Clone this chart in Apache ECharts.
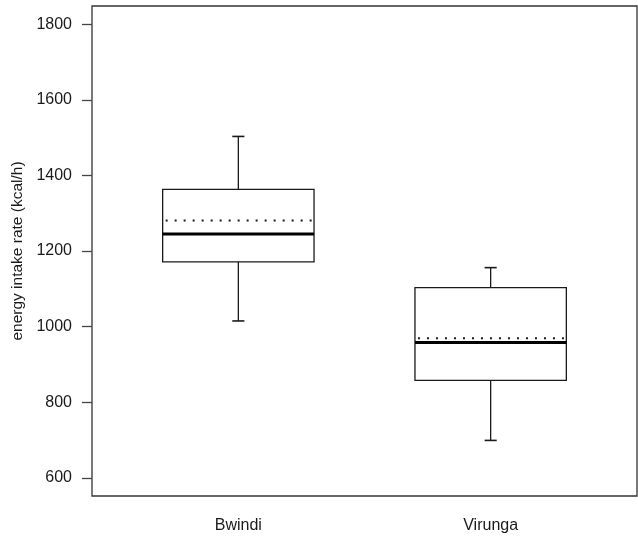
<!DOCTYPE html>
<html>
<head>
<meta charset="utf-8">
<script src="https://cdn.jsdelivr.net/npm/echarts@6/dist/echarts.min.js"></script>
<style>
html,body{margin:0;padding:0;background:#fff;}
#main{width:638px;height:536px;}
</style>
</head>
<body>
<div id="main"></div>
<script>
// Data
var categories = ['Bwindi', 'Virunga'];
var whiskerLow = [1015, 699];
var q1 = [1171, 858];
var median = [1245, 958];
var q3 = [1363, 1103];
var whiskerHigh = [1503, 1156];
var mean = [1281, 969];
var yTicks = [600, 800, 1000, 1200, 1400, 1600, 1800];

var data = categories.map(function (c, i) {
  return [i + 1, whiskerLow[i], q1[i], median[i], q3[i], whiskerHigh[i], mean[i]];
});

var FONT = '"Liberation Sans", Arial, Helvetica, sans-serif';
var INK = '#1a1a1a';

function renderItem(params, api) {
  var x = api.value(0);
  var half = 0.3, cap = 0.024;
  var lo = api.value(1), a = api.value(2), m = api.value(3), b = api.value(4), hi = api.value(5), mu = api.value(6);
  var pL = api.coord([x - half, b]);
  var pR = api.coord([x + half, a]);
  var c = function (xx, yy) { return api.coord([xx, yy]); };
  var thin = {stroke: INK, lineWidth: 1.3, fill: null};
  var children = [];
  children.push({type: 'line', shape: {x1: c(x, b)[0], y1: c(x, b)[1], x2: c(x, hi)[0], y2: c(x, hi)[1]}, style: thin});
  children.push({type: 'line', shape: {x1: c(x, a)[0], y1: c(x, a)[1], x2: c(x, lo)[0], y2: c(x, lo)[1]}, style: thin});
  children.push({type: 'line', shape: {x1: c(x - cap, hi)[0], y1: c(x, hi)[1], x2: c(x + cap, hi)[0], y2: c(x, hi)[1]}, style: {stroke: INK, lineWidth: 1.6}});
  children.push({type: 'line', shape: {x1: c(x - cap, lo)[0], y1: c(x, lo)[1], x2: c(x + cap, lo)[0], y2: c(x, lo)[1]}, style: {stroke: INK, lineWidth: 1.6}});
  children.push({type: 'rect', shape: {x: pL[0], y: pL[1], width: pR[0] - pL[0], height: pR[1] - pL[1]}, style: {stroke: INK, lineWidth: 1.3, fill: '#fff'}});
  var mL = c(x - half, mu), mR = c(x + half, mu);
  children.push({type: 'line', shape: {x1: mL[0] + 3, y1: mL[1], x2: mR[0], y2: mR[1]}, style: {stroke: INK, lineWidth: 2, lineDash: [2, 7]}});
  var dL = c(x - half, m), dR = c(x + half, m);
  children.push({type: 'line', shape: {x1: dL[0], y1: dL[1], x2: dR[0], y2: dR[1]}, style: {stroke: '#000', lineWidth: 3.2}});
  return {type: 'group', children: children};
}

var chart = echarts.init(document.getElementById('main'), null, {renderer: 'canvas'});
chart.setOption({
  animation: false,
  backgroundColor: '#fff',
  grid: {left: 92, right: 1, top: 6, bottom: 40, show: true, borderColor: '#333', borderWidth: 1.3, backgroundColor: 'transparent'},
  xAxis: {
    type: 'value', min: 0.42, max: 2.58,
    axisLine: {show: false},
    axisTick: {show: false},
    splitLine: {show: false},
    axisLabel: {
      customValues: [1, 2],
      formatter: function (v) { return categories[Math.round(v) - 1] || ''; },
      color: INK, fontFamily: FONT, fontSize: 16, margin: 22
    }
  },
  yAxis: {
    type: 'value', min: 552, max: 1848,
    name: 'energy intake rate (kcal/h)',
    nameLocation: 'middle', nameGap: 64,
    nameTextStyle: {color: INK, fontFamily: FONT, fontSize: 15.5},
    axisLine: {show: false},
    splitLine: {show: false},
    axisTick: {show: true, customValues: yTicks, length: 10, lineStyle: {color: '#444', width: 1.3}},
    axisLabel: {customValues: yTicks, formatter: function (v) { return String(v); }, color: INK, fontFamily: FONT, fontSize: 16, margin: 20}
  },
  series: [{
    type: 'custom',
    renderItem: renderItem,
    encode: {x: 0, y: [1, 2, 3, 4, 5, 6]},
    data: data
  }]
});
</script>
</body>
</html>
